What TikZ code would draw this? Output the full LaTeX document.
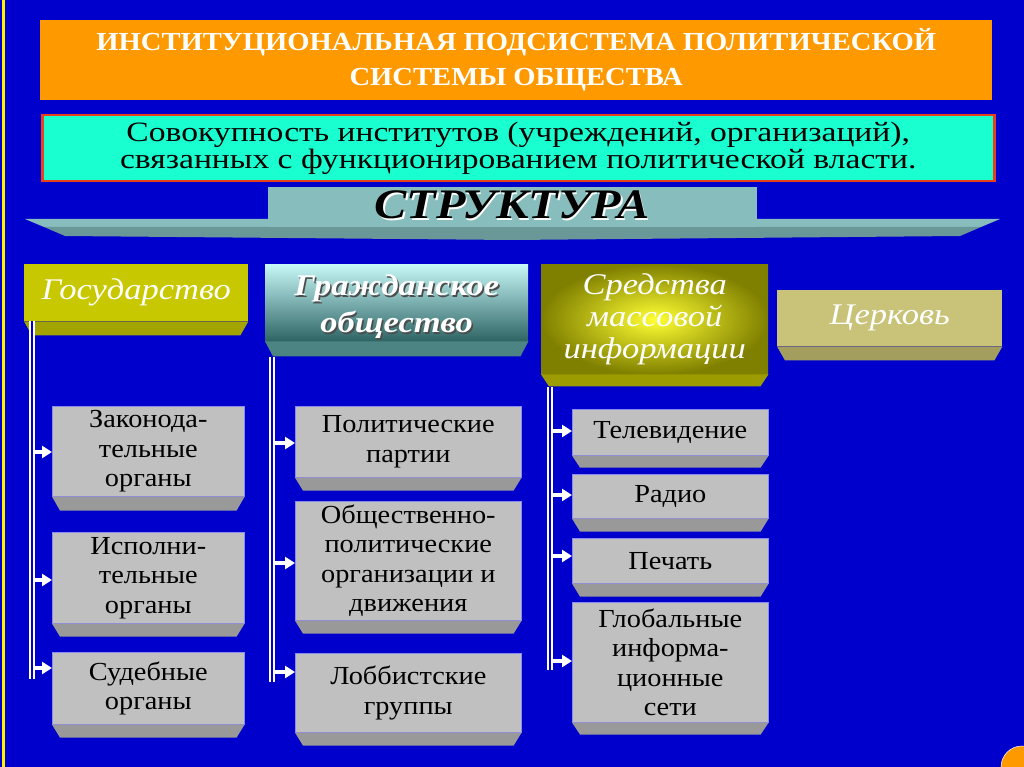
\documentclass[tikz,border=0pt]{standalone}
\usepackage{fontspec}
\setmainfont{Liberation Serif}
\newfontfamily\titlefont{Liberation Serif}[FakeStretch=1.1]
\newfontfamily\defnfont{Liberation Serif}[FakeStretch=1.2]
\newfontfamily\boxfont{Liberation Serif}[FakeStretch=1.09]
\newfontfamily\headfont{Liberation Serif}[FakeStretch=1.15]
\usetikzlibrary{arrows.meta,positioning,calc}
\definecolor{bgblue}{HTML}{0000CC}
\definecolor{titleorange}{HTML}{FF9900}
\definecolor{aqua}{HTML}{1AFFD0}
\definecolor{redline}{HTML}{E8401C}
\definecolor{bannerteal}{HTML}{88BDBD}
\definecolor{platedark}{HTML}{6A9898}
\definecolor{grayface}{HTML}{C0C0C0}
\definecolor{graybevel}{HTML}{999999}
\definecolor{edgeblue}{HTML}{8A8AF0}
\definecolor{gosface}{HTML}{C8C800}
\definecolor{gosbevel}{HTML}{A4A400}
\definecolor{cerkface}{HTML}{C8C378}
\definecolor{cerkbevel}{HTML}{A39E5E}
\definecolor{smiinner}{HTML}{FFFF33}
\definecolor{smiouter}{HTML}{808000}
\definecolor{smibevel}{HTML}{9C9C00}
\definecolor{grtop}{HTML}{C8F8F8}
\definecolor{grbottom}{HTML}{2E6464}
\definecolor{grbevel}{HTML}{4C8484}

% bottom bevel of a box: node, depth, colour
\newcommand{\bevel}[3]{%
  \fill[#3] (#1.south west) -- (#1.south east) -- ++(-8,#2)
    -- ($(#1.south west)+(8,#2)$) -- cycle;}

\begin{document}
\begin{tikzpicture}[
  x=1pt, y=-1pt,
  face/.style={anchor=north west, inner sep=2pt, align=center,
               draw=edgeblue, line width=0.6pt, fill=grayface,
               font=\boxfont\fontsize{26}{29.5}\selectfont},
  head/.style={anchor=north west, inner sep=2pt, align=center, text=white,
               font=\headfont\itshape\fontsize{30}{34}\selectfont},
  trunk/.style={draw=white, double=bgblue, double distance=2pt, line width=2pt},
  arr/.style={-{Triangle[length=10pt,width=12pt]}, draw=white, line width=3.5pt}
]
\useasboundingbox (0,0) rectangle (1024,767);
\fill[bgblue] (0,0) rectangle (1024,767);
\draw[yellow, line width=2.5pt] (3.5,0) -- (3.5,767);

% title and definition
\node[anchor=north west, fill=titleorange, minimum width=952, minimum height=80,
      align=center, text=white, font=\titlefont\bfseries\fontsize{26}{35}\selectfont]
  (title) at (40,20) {ИНСТИТУЦИОНАЛЬНАЯ ПОДСИСТЕМА ПОЛИТИЧЕСКОЙ\\СИСТЕМЫ ОБЩЕСТВА};
\node[anchor=north west, fill=aqua, draw=redline, line width=2.5pt,
      minimum width=952, minimum height=66, align=center,
      font=\defnfont\fontsize{28}{25}\selectfont]
  (defn) at (41,114) {Совокупность институтов (учреждений, организаций),\\связанных с функционированием политической власти.};

% structure banner
\fill[bannerteal] (25,219) -- (1000,219) -- (981,227) -- (44,227) -- cycle;
\fill[platedark] (44,227) -- (981,227) -- (960,236) -- (512,240) -- (65,236) -- cycle;
\node[anchor=north west, fill=bannerteal, minimum width=489, minimum height=40,
      inner sep=0pt] (struct) at (268,187) {};
\node[text=white, font=\headfont\bfseries\itshape\fontsize{42}{42}\selectfont]
  (structshadow) at (513.5,206.5) {СТРУКТУРА};
\node[text=black, font=\headfont\bfseries\itshape\fontsize{42}{42}\selectfont]
  (structlbl) at (512,205) {СТРУКТУРА};

% headers
\node[head, fill=gosface, minimum width=224, minimum height=57] (gos) at (24,264) {Государство};
\bevel{gos}{14}{gosbevel}
\node[head, top color=grtop, bottom color=grbottom, minimum width=263, minimum height=77]
  (grazh) at (265,264) {\phantom{Гражданское}\\\phantom{общество}};
\bevel{grazh}{15}{grbevel}
\node[head, text=black!70, font=\headfont\bfseries\itshape\fontsize{30}{37}\selectfont,
      minimum width=263, minimum height=77] (grazhshadow) at (266.5,269.5) {Гражданское\\общество};
\node[head, font=\headfont\bfseries\itshape\fontsize{30}{37}\selectfont,
      minimum width=263, minimum height=77] (grazhlbl) at (265,268) {Гражданское\\общество};
\node[head, shading=radial, inner color=smiinner, outer color=smiouter,
      minimum width=227, minimum height=110, font=\headfont\itshape\fontsize{30}{32}\selectfont]
  (smi) at (541,264) {Средства\\массовой\\информации};
\bevel{smi}{12}{smibevel}
\node[head, fill=cerkface, minimum width=225, minimum height=56] (cerk) at (777,290) {Церковь};
\bevel{cerk}{14}{cerkbevel}

% state organs
\node[face, minimum width=192, minimum height=90] (zak) at (52,406) {Законода-\\тельные\\органы};
\bevel{zak}{14}{graybevel}
\node[face, minimum width=192, minimum height=91] (isp) at (52,532) {Исполни-\\тельные\\органы};
\bevel{isp}{13}{graybevel}
\node[face, minimum width=192, minimum height=72] (sud) at (52,652) {Судебные\\органы};
\bevel{sud}{13}{graybevel}

% civil society
\node[face, minimum width=226, minimum height=71] (pol) at (295,406) {Политические\\партии};
\bevel{pol}{13}{graybevel}
\node[face, minimum width=226, minimum height=119] (obsh) at (295,501) {Общественно-\\политические\\организации и\\движения};
\bevel{obsh}{13}{graybevel}
\node[face, minimum width=226, minimum height=79] (lobb) at (295,653) {Лоббистские\\группы};
\bevel{lobb}{13}{graybevel}

% mass media
\node[face, minimum width=196, minimum height=46] (tv) at (572,409) {Телевидение};
\bevel{tv}{12}{graybevel}
\node[face, minimum width=196, minimum height=44] (radio) at (572,474) {Радио};
\bevel{radio}{13}{graybevel}
\node[face, minimum width=196, minimum height=45] (pech) at (572,538) {Печать};
\bevel{pech}{13}{graybevel}
\node[face, minimum width=196, minimum height=120] (glob) at (572,602) {Глобальные\\информа-\\ционные\\сети};
\bevel{glob}{12}{graybevel}

% trunks
\coordinate (gostop) at ([xshift=8]gos.south west);
\coordinate (gosend) at (32,679);
\coordinate (grtrunk) at (272,357);
\coordinate (grend) at (272,682);
\coordinate (smitop) at (550,387);
\coordinate (smiend) at (550,670);
\draw[trunk] (gostop) -- (gosend);
\draw[trunk] (grtrunk) -- (grend);
\draw[trunk] (smitop) -- (smiend);

% branches
\coordinate (b1) at (35,452);
\coordinate (b2) at (35,580);
\coordinate (b3) at (35,668);
\draw[arr] (b1) -- (b1 -| zak.west);
\draw[arr] (b2) -- (b2 -| isp.west);
\draw[arr] (b3) -- (b3 -| sud.west);
\coordinate (c1) at (275,443);
\coordinate (c2) at (275,563);
\coordinate (c3) at (275,672);
\draw[arr] (c1) -- (c1 -| pol.west);
\draw[arr] (c2) -- (c2 -| obsh.west);
\draw[arr] (c3) -- (c3 -| lobb.west);
\coordinate (d1) at (553,431);
\coordinate (d2) at (553,495);
\coordinate (d3) at (553,556);
\coordinate (d4) at (553,661);
\draw[arr] (d1) -- (d1 -| tv.west);
\draw[arr] (d2) -- (d2 -| radio.west);
\draw[arr] (d3) -- (d3 -| pech.west);
\draw[arr] (d4) -- (d4 -| glob.west);

% corner mark
\fill[titleorange, draw=white, line width=0.5pt] (1022,767) circle (21);
\end{tikzpicture}
\end{document}
